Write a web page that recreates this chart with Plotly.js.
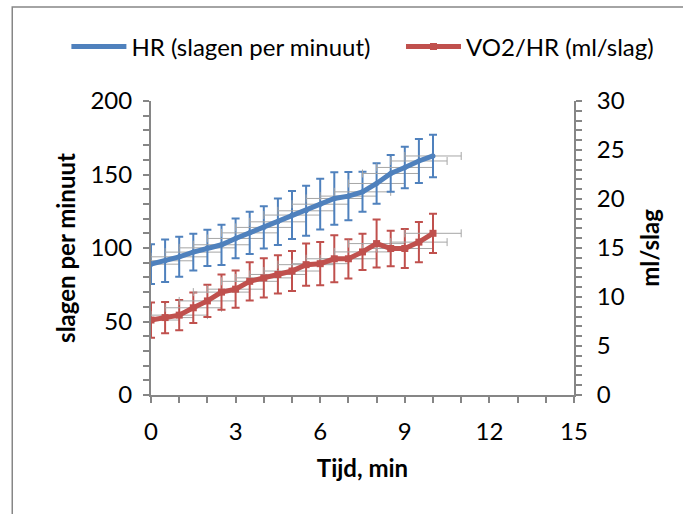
<!DOCTYPE html>
<html>
<head>
<meta charset="utf-8">
<script src="https://cdn.plot.ly/plotly-3.0.1.min.js"></script>
<style>html,body{margin:0;padding:0;background:#fff;}#chart{width:683px;height:514px;}</style>
</head>
<body>
<div id="chart"></div>
<script>
const time = [0, 0.5, 1, 1.5, 2, 2.5, 3, 3.5, 4, 4.5, 5, 5.5, 6, 6.5, 7, 7.5, 8, 8.5, 9, 9.5, 10];
const hr = [89, 91.3, 94, 97.2, 100.1, 102.2, 106.5, 110.3, 114, 117.8, 122.4, 125.3, 129.8, 133.7, 135.3, 138.2, 143.9, 150.7, 154.8, 159.2, 162.6];
const hrErr = [13.5, 14.4, 13.6, 12.5, 12.4, 13.7, 13.5, 14.4, 14.4, 15.8, 16.3, 17, 17.3, 17.9, 16.4, 13.6, 13.8, 12.5, 14.1, 15, 14.4];
const vo2hr = [7.65, 7.9, 8.15, 8.9, 9.6, 10.5, 10.8, 11.6, 11.95, 12.3, 12.65, 13.3, 13.4, 13.9, 13.9, 14.6, 15.45, 14.95, 14.95, 15.6, 16.5];
const vo2hrErr = [1.8, 1.6, 1.55, 1.55, 1.65, 1.8, 1.9, 1.95, 2.0, 1.95, 2.05, 2.15, 2.2, 2.4, 2.0, 1.85, 2.45, 1.8, 2.0, 2.05, 2.0];
const timeErr = 1;
const names = ['HR (slagen per minuut)', 'VO2/HR (ml/slag)'];
const xTitle = 'Tijd, min';
const yTitle = 'slagen per minuut';
const y2Title = 'ml/slag';

const FONT = 'Lato, "Open Sans", sans-serif';
const FS = 24;
const AX = '#868686';
const BLUE = '#4F81BD';
const RED = '#C0504D';

const traces = [
  {
    x: time, y: hr, name: names[0], type: 'scatter', mode: 'lines+markers',
    line: {color: BLUE, width: 5},
    marker: {color: BLUE, size: 5, symbol: 'circle'},
    error_y: {type: 'data', array: hrErr, visible: true, color: BLUE, thickness: 2, width: 4},
    error_x: {type: 'constant', value: timeErr, visible: true, color: '#a6a6a6', thickness: 1, width: 4},
    xaxis: 'x', yaxis: 'y', legend: 'legend'
  },
  {
    x: time, y: vo2hr, name: names[1], type: 'scatter', mode: 'lines+markers',
    line: {color: RED, width: 5},
    marker: {color: RED, size: 7, symbol: 'square'},
    error_y: {type: 'data', array: vo2hrErr, visible: true, color: RED, thickness: 2, width: 4},
    error_x: {type: 'constant', value: timeErr, visible: true, color: '#a6a6a6', thickness: 1, width: 4},
    xaxis: 'x', yaxis: 'y2', legend: 'legend2'
  }
];

const baseAx = {
  showgrid: false, zeroline: false, showline: true, linecolor: AX, linewidth: 2,
  ticks: 'outside', tickcolor: AX, tickwidth: 2, ticklen: 6,
  tickfont: {family: FONT, size: FS, color: '#000'}
};

const legendBase = {orientation: 'h', xanchor: 'left', y: 1.184, yanchor: 'middle',
                    font: {family: FONT, size: FS, color: '#000'}, itemwidth: 55, bgcolor: 'rgba(0,0,0,0)'};

const layout = {
  width: 683, height: 514,
  margin: {l: 151, r: 109, t: 101, b: 119, pad: 0, autoexpand: false},
  paper_bgcolor: '#fff', plot_bgcolor: '#fff',
  font: {family: FONT, size: FS, color: '#000'},
  showlegend: true,
  legend: Object.assign({}, legendBase, {x: -0.2}),
  legend2: Object.assign({}, legendBase, {x: 0.591}),
  xaxis: Object.assign({}, baseAx, {
    range: [0, 15], tickmode: 'linear', tick0: 0, dtick: 3, ticklabelstandoff: 8,
    minor: {ticks: 'outside', dtick: 1, ticklen: 6, tickcolor: AX, tickwidth: 2},
    title: {text: '<b>' + xTitle + '</b>', font: {family: FONT, size: FS, color: '#000'}, standoff: 16},
    anchor: 'y'
  }),
  yaxis: Object.assign({}, baseAx, {
    range: [0, 200], tickmode: 'linear', tick0: 0, dtick: 50, ticklabelstandoff: 6,
    minor: {ticks: 'outside', dtick: 10, ticklen: 6, tickcolor: AX, tickwidth: 2},
    title: {text: '<b>' + yTitle + '</b>', font: {family: FONT, size: FS, color: '#000'}, standoff: 8},
    anchor: 'x'
  }),
  yaxis2: Object.assign({}, baseAx, {
    range: [0, 30], tickmode: 'linear', tick0: 0, dtick: 5, ticklabelstandoff: 10,
    minor: {ticks: 'outside', dtick: 1, ticklen: 6, tickcolor: AX, tickwidth: 2},
    title: {text: '<b>' + y2Title + '</b>', font: {family: FONT, size: FS, color: '#000'}, standoff: 18},
    overlaying: 'y', side: 'right', anchor: 'x'
  }),
  xaxis3: {range: [0, 15], overlaying: 'x', anchor: 'y', showgrid: false, zeroline: false, showline: false,
           tickmode: 'linear', tick0: 0, dtick: 3, ticks: 'inside', ticklen: 7, tickcolor: AX, tickwidth: 2, showticklabels: false},
  yaxis3: {range: [0, 200], overlaying: 'y', anchor: 'x', side: 'left', showgrid: false, zeroline: false, showline: false,
           tickmode: 'linear', tick0: 0, dtick: 50, ticks: 'inside', ticklen: 8, tickcolor: AX, tickwidth: 2, showticklabels: false},
  yaxis4: {range: [0, 30], overlaying: 'y', anchor: 'x', side: 'right', showgrid: false, zeroline: false, showline: false,
           tickmode: 'linear', tick0: 0, dtick: 5, ticks: 'inside', ticklen: 8, tickcolor: AX, tickwidth: 2, showticklabels: false},
  shapes: [
    {type: 'rect', xref: 'paper', yref: 'paper', x0: -0.328, x1: 1.4, y0: -0.6, y1: 1.32,
     line: {color: AX, width: 1.5}, fillcolor: 'rgba(0,0,0,0)', layer: 'below'}
  ]
};

Plotly.newPlot('chart', traces, layout, {displayModeBar: false, staticPlot: true});
</script>
</body>
</html>
